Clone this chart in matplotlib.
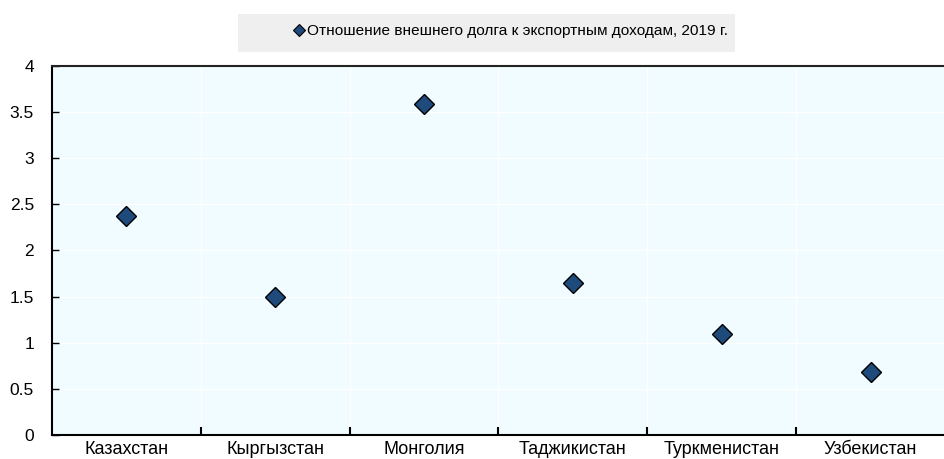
import matplotlib
matplotlib.use('Agg')
import matplotlib.pyplot as plt
from matplotlib.patches import Rectangle
from matplotlib.lines import Line2D

plt.rcParams['font.family'] = ['Liberation Sans', 'DejaVu Sans']

countries = ['Казахстан', 'Кыргызстан', 'Монголия', 'Таджикистан', 'Туркменистан', 'Узбекистан']
ratio = [2.37, 1.50, 3.59, 1.65, 1.09, 0.68]
series_name = 'Отношение внешнего долга к экспортным доходам, 2019 г.'

fig = plt.figure(figsize=(9.45, 4.59), dpi=100)
ax = fig.add_axes([0.055, 0.0523, 0.945, 0.8039])
ax.set_facecolor('#f0fcff')

x = list(range(len(countries)))
ax.plot(x, ratio, linestyle='none', marker='D', markersize=10,
        markerfacecolor='#1f4a7c', markeredgecolor='black', markeredgewidth=1, zorder=3)

ax.set_xlim(-0.5, len(countries) - 0.5)
ax.set_ylim(0, 4)
ax.set_yticks([0, 0.5, 1, 1.5, 2, 2.5, 3, 3.5, 4])
ax.set_yticklabels(['0', '0.5', '1', '1.5', '2', '2.5', '3', '3.5', '4'])

# category boundaries as major ticks, labels on minor ticks
ax.set_xticks([i + 0.5 for i in range(len(countries) - 1)])
ax.set_xticklabels([])
ax.set_xticks(x, minor=True)
ax.set_xticklabels(countries, minor=True)
ax.tick_params(axis='x', which='minor', length=0, pad=4, labelsize=13)
ax.tick_params(axis='x', which='major', direction='in', length=6, width=1.5)
ax.tick_params(axis='y', direction='in', length=5, width=1, labelsize=12.5, pad=13)

ax.grid(True, which='major', color='white', linewidth=1)
ax.set_axisbelow(True)

for s in ['left', 'bottom']:
    ax.spines[s].set_linewidth(1.5)
    ax.spines[s].set_color('black')
ax.spines['top'].set_linewidth(1.5)
ax.spines['top'].set_color('#222222')
ax.spines['right'].set_visible(False)

# legend block
fig.patches.append(Rectangle((238 / 945, 1 - 52 / 459), (735 - 238) / 945, 38 / 459,
                             transform=fig.transFigure, facecolor='#efefef', edgecolor='none'))
handle = Line2D([], [], linestyle='none', marker='D', markersize=6,
                markerfacecolor='#1f4a7c', markeredgecolor='black', markeredgewidth=0.8)
fig.legend([handle], [series_name], loc='center left', bbox_to_anchor=(287 / 945, 1 - 31 / 459),
           frameon=False, fontsize=11.1, handlelength=0.6, handletextpad=0.2, borderpad=0)

fig.savefig('out.png', dpi=100)
